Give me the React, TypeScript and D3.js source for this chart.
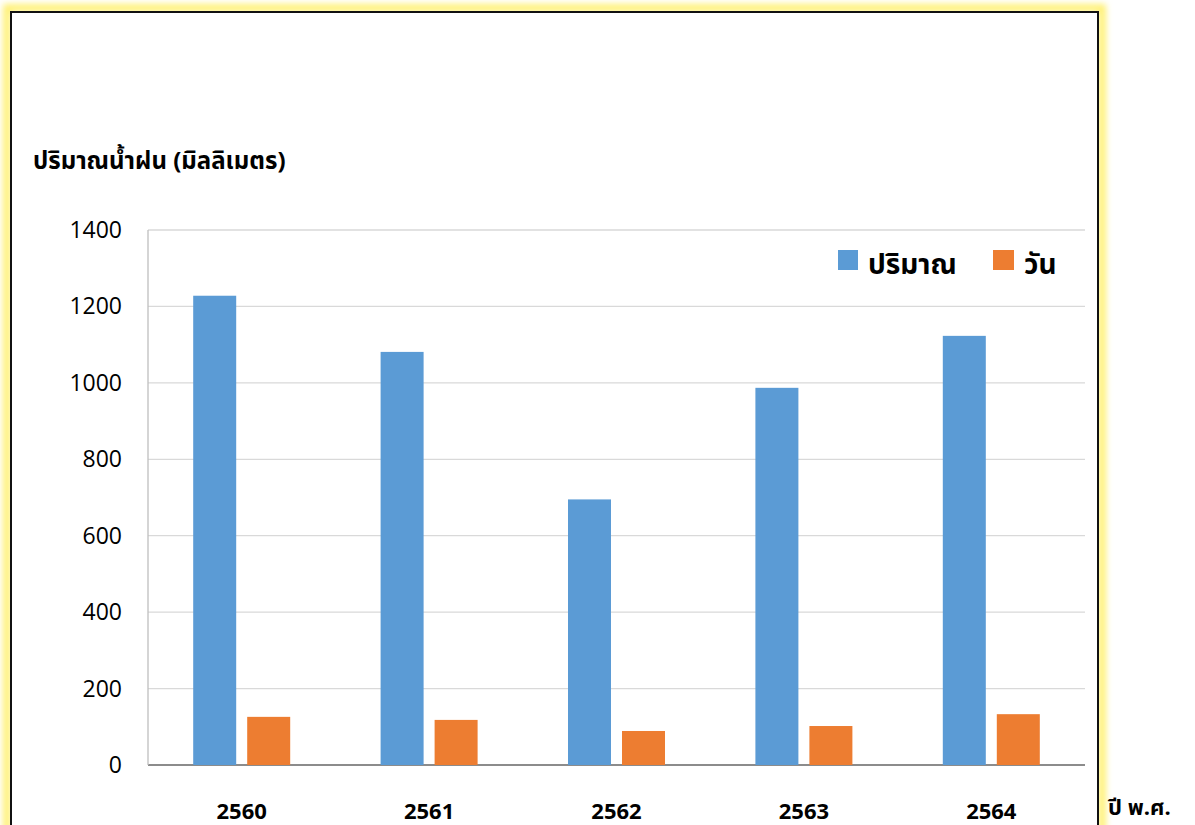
import React from "react";
import * as d3 from "d3";

const categories = ["2560", "2561", "2562", "2563", "2564"];
const rainAmount = [1228, 1081, 695, 987, 1123];
const rainDays = [126, 118, 89, 102, 133];
const yTicks = [0, 200, 400, 600, 800, 1000, 1200, 1400];
const seriesNames = ["ปริมาณ", "วัน"];
const colors = ["#5b9bd5", "#ed7d31"];

const W = 1195;
const H = 825;
const left = 148;
const right = 1085;
const top = 230;
const bottom = 765;

export default function App() {
  const x = d3.scaleBand().domain(categories).range([left, right]).padding(0);
  const y = d3.scaleLinear().domain([0, 1400]).range([bottom, top]);
  const bw = x.bandwidth();
  const barW = 43;
  const gap = 11;
  const fontNum = "'Open Sans', Lato, sans-serif";
  const fontThai = "Tahoma, 'Noto Sans Thai', 'Noto Sans', 'DejaVu Sans', sans-serif";
  return (
    <svg width={W} height={H} style={{ position: "absolute", left: 0, top: 0 }}>
      <defs>
        <filter id="glow" x="-5%" y="-5%" width="110%" height="110%">
          <feGaussianBlur stdDeviation="3" />
        </filter>
      </defs>
      <rect x={0} y={0} width={W} height={H} fill="#ffffff" />
      <rect x={7} y={8} width={1095} height={840} fill="none" stroke="#fff176" strokeWidth={8} filter="url(#glow)" />
      <rect x={11} y={12} width={1087} height={830} fill="#ffffff" stroke="#111" strokeWidth={2} />
      {yTicks.map((t) => (
        <line key={t} x1={left} x2={right} y1={y(t)} y2={y(t)} stroke={t === 0 ? "#8c8c8c" : "#d9d9d9"} strokeWidth={t === 0 ? 2 : 1.3} />
      ))}
      <line x1={left} x2={left} y1={top} y2={bottom} stroke="#bfbfbf" strokeWidth={1.3} />
      {yTicks.map((t) => (
        <text key={"l" + t} x={122} y={y(t)} dy="0.35em" textAnchor="end" fontFamily={fontNum} fontSize={23} fill="#000">
          {t}
        </text>
      ))}
      {categories.map((c, i) => {
        const cx = (x(c) as number) + bw / 2;
        return (
          <g key={c}>
            <rect x={cx - gap / 2 - barW} y={y(rainAmount[i])} width={barW} height={bottom - y(rainAmount[i])} fill={colors[0]} />
            <rect x={cx + gap / 2} y={y(rainDays[i])} width={barW} height={bottom - y(rainDays[i])} fill={colors[1]} />
            <text x={cx} y={819} textAnchor="middle" fontFamily={fontNum} fontWeight="bold" fontSize={22} fill="#000">
              {c}
            </text>
          </g>
        );
      })}
      <text x={33} y={169} fontFamily={fontThai} fontWeight="bold" fontSize={24} fill="#000">
        ปริมาณน้ำฝน (มิลลิเมตร)
      </text>
      <text x={1108} y={815} fontFamily={fontThai} fontWeight="bold" fontSize={22} fill="#000">
        ปี พ.ศ.
      </text>
      <rect x={838} y={250} width={20} height={20} fill={colors[0]} />
      <text x={868} y={274} fontFamily={fontThai} fontWeight="bold" fontSize={28} fill="#000">
        {seriesNames[0]}
      </text>
      <rect x={993} y={250} width={21} height={20} fill={colors[1]} />
      <text x={1024} y={274} fontFamily={fontThai} fontWeight="bold" fontSize={28} fill="#000">
        {seriesNames[1]}
      </text>
    </svg>
  );
}
